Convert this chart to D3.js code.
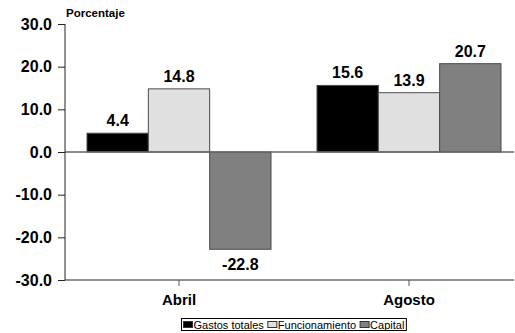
<!DOCTYPE html>
<html>
<head>
<meta charset="utf-8">
<script src="https://cdn.jsdelivr.net/npm/d3@7"></script>
<style>
  html, body { margin: 0; padding: 0; background: #fff; }
  svg { display: block; font-family: "Liberation Sans", Arial, sans-serif; }
</style>
</head>
<body>
<svg id="chart" width="515" height="333"></svg>
<script>
// Variación porcentual del gasto por mes
const categories = ["Abril", "Agosto"];
const seriesNames = ["Gastos totales", "Funcionamiento", "Capital"];
const gastosTotales = [4.4, 15.6];
const funcionamiento = [14.8, 13.9];
const capital = [-22.8, 20.7];
const yTicks = [30, 20, 10, 0, -10, -20, -30];
const seriesColors = ["#000000", "#e0e0e0", "#808080"];

(function () {
  const seriesValues = [gastosTotales, funcionamiento, capital];

  const svg = d3.select("#chart");
  const plotLeft = 65, plotRight = 514, plotTop = 24, plotBottom = 280;

  const x0 = d3.scaleBand().domain(categories).range([64, 524])
    .paddingInner(0.2).paddingOuter(0.1);
  const x1 = d3.scaleBand().domain(seriesNames).range([0, x0.bandwidth()]);
  const y = d3.scaleLinear().domain([-30, 30]).range([plotBottom, plotTop]);

  // Barras
  categories.forEach((cat, ci) => {
    seriesNames.forEach((s, si) => {
      const v = seriesValues[si][ci];
      const bx = x0(cat) + x1(s);
      svg.append("rect")
        .attr("x", bx)
        .attr("y", y(Math.max(0, v)))
        .attr("width", x1.bandwidth())
        .attr("height", Math.abs(y(v) - y(0)))
        .attr("fill", seriesColors[si])
        .attr("stroke", "#4a4a4a")
        .attr("stroke-width", 1);
      svg.append("text")
        .attr("x", bx + x1.bandwidth() / 2)
        .attr("y", v >= 0 ? y(v) - 7 : y(v) + 21)
        .attr("text-anchor", "middle")
        .attr("font-size", 16)
        .attr("font-weight", "bold")
        .attr("fill", "#000")
        .text(v.toFixed(1));
    });
  });

  // Línea del cero
  svg.append("line")
    .attr("x1", plotLeft).attr("x2", plotRight)
    .attr("y1", y(0)).attr("y2", y(0))
    .attr("stroke", "#666").attr("stroke-width", 1.5);

  // Eje Y
  const yAxis = d3.axisLeft(y).tickValues(yTicks).tickSize(7).tickPadding(6)
    .tickFormat(d => d.toFixed(1));
  const gy = svg.append("g").attr("transform", `translate(${plotLeft},0)`).call(yAxis);
  gy.select(".domain").attr("stroke", "#222").attr("d", `M0,${plotTop}V${plotBottom}`);
  gy.selectAll(".tick line").attr("stroke", "#222");
  gy.selectAll(".tick text")
    .attr("font-size", 16).attr("font-weight", "bold")
    .attr("font-family", "Liberation Sans, Arial, sans-serif").attr("fill", "#000");

  // Eje X (abajo)
  const xAxis = d3.axisBottom(x0).tickSize(6).tickPadding(8);
  const gx = svg.append("g").attr("transform", `translate(0,${plotBottom})`).call(xAxis);
  gx.select(".domain").attr("stroke", "#222").attr("d", `M${plotLeft},0H${plotRight}`);
  gx.selectAll(".tick line").attr("stroke", "#555");
  gx.selectAll(".tick text")
    .attr("font-size", 15).attr("font-weight", "bold")
    .attr("font-family", "Liberation Sans, Arial, sans-serif").attr("fill", "#000");

  // Título del eje
  svg.append("text")
    .attr("x", 66).attr("y", 17)
    .attr("font-size", 11.5).attr("font-weight", "bold")
    .text("Porcentaje");

  // Leyenda: los elementos se colocan uno tras otro según el ancho de cada texto
  const lg = svg.append("g");
  const box = lg.append("rect")
    .attr("y", 318.5).attr("height", 12)
    .attr("fill", "#fff").attr("stroke", "#000").attr("stroke-width", 1);
  const boxLeft = 181.5;
  let cx = boxLeft + 2;
  seriesNames.forEach((s, i) => {
    lg.append("rect")
      .attr("x", cx).attr("y", 321.5).attr("width", 9).attr("height", 6)
      .attr("fill", seriesColors[i]).attr("stroke", "#333").attr("stroke-width", 1);
    const t = lg.append("text")
      .attr("x", cx + 10).attr("y", 328.5)
      .attr("font-size", 11)
      .text(s);
    cx += 10 + t.node().getComputedTextLength() + 4;
  });
  box.attr("x", boxLeft).attr("width", cx - boxLeft - 2);
})();
</script>
</body>
</html>
